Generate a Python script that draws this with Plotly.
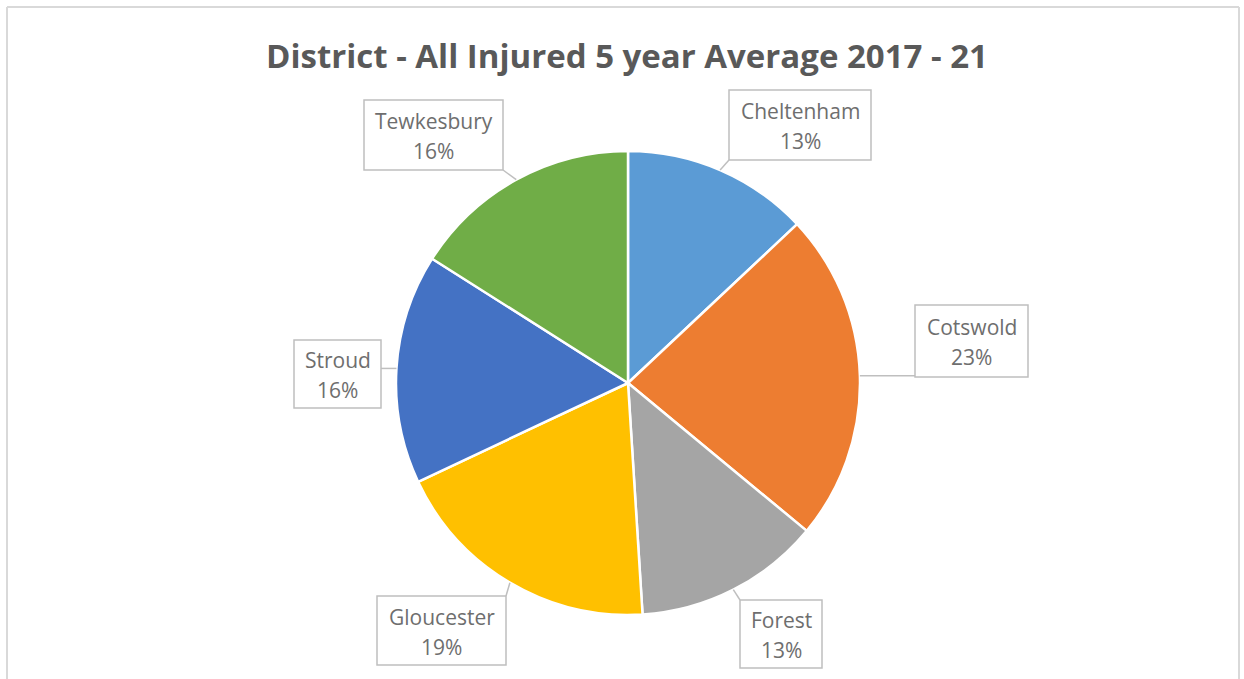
import math
import plotly.graph_objects as go

# District shares of all injured casualties (5 year average 2017-21), percent
districts = ["Cheltenham", "Cotswold", "Forest", "Gloucester", "Stroud", "Tewkesbury"]
shares = [13, 23, 13, 19, 16, 16]
colors = ["#5B9BD5", "#ED7D31", "#A5A5A5", "#FFC000", "#4472C4", "#70AD47"]

W, H = 1244, 679
CX, CY, R = 628, 383, 232  # pie centre and radius in pixels

# Callout boxes (left, top, right, bottom) in pixels
boxes = {
    "Cheltenham": (729, 90, 871, 160),
    "Cotswold": (915, 305, 1028, 377),
    "Forest": (740, 600, 822, 668),
    "Gloucester": (377, 596, 506, 665),
    "Stroud": (294, 340, 381, 408),
    "Tewkesbury": (364, 100, 503, 170),
}


def px(x):
    return x / W


def py(y):
    return 1 - y / H


fig = go.Figure()
fig.add_trace(go.Pie(
    labels=districts,
    values=shares,
    sort=False,
    direction="clockwise",
    rotation=0,
    marker=dict(colors=colors, line=dict(color="white", width=2.5)),
    textinfo="none",
    hoverinfo="label+percent",
    showlegend=False,
    domain=dict(x=[px(CX - R), px(CX + R)], y=[py(CY + R), py(CY - R)]),
))

shapes = []
annotations = []
total = sum(shares)
cum = 0.0
for name, val in zip(districts, shares):
    mid = (cum + val / 2) / total * 2 * math.pi
    cum += val
    ax = CX + R * math.sin(mid)
    ay = CY - R * math.cos(mid)
    l, t, r, b = boxes[name]
    # nearest point of the callout box to the slice edge
    nx = min(max(ax, l), r)
    ny = min(max(ay, t), b)
    shapes.append(dict(type="line", xref="paper", yref="paper",
                       x0=px(ax), y0=py(ay), x1=px(nx), y1=py(ny),
                       line=dict(color="#BFBFBF", width=1.5)))
    shapes.append(dict(type="rect", xref="paper", yref="paper",
                       x0=px(l), y0=py(b), x1=px(r), y1=py(t),
                       fillcolor="white", line=dict(color="#BFBFBF", width=1.5)))
    cxb = (l + r) / 2
    cyb = (t + b) / 2
    pct = round(val / total * 100)
    annotations.append(dict(x=px(cxb), y=py(cyb - 14), xref="paper", yref="paper",
                            text=name, showarrow=False, xanchor="center", yanchor="middle",
                            font=dict(family="Open Sans", size=21, color="#6E6E6E")))
    annotations.append(dict(x=px(cxb), y=py(cyb + 16), xref="paper", yref="paper",
                            text=f"{pct}%", showarrow=False, xanchor="center", yanchor="middle",
                            font=dict(family="Open Sans", size=21, color="#6E6E6E")))

# chart frame
for x0, y0, x1, y1 in [(7, 7, 1239, 7), (7, 7, 7, 690), (1239, 7, 1239, 690)]:
    shapes.append(dict(type="line", xref="paper", yref="paper",
                       x0=px(x0), y0=py(y0), x1=px(x1), y1=py(y1),
                       line=dict(color="#D9D9D9", width=2)))

annotations.append(dict(x=px(627), y=py(55), xref="paper", yref="paper",
                        text="<b>District - All Injured 5 year Average 2017 - 21</b>",
                        showarrow=False, xanchor="center", yanchor="middle",
                        font=dict(family="Open Sans", size=33, color="#595959")))

fig.update_layout(
    width=W, height=H,
    margin=dict(l=0, r=0, t=0, b=0),
    paper_bgcolor="white",
    plot_bgcolor="white",
    shapes=shapes,
    annotations=annotations,
)

fig.write_html("out.html")
